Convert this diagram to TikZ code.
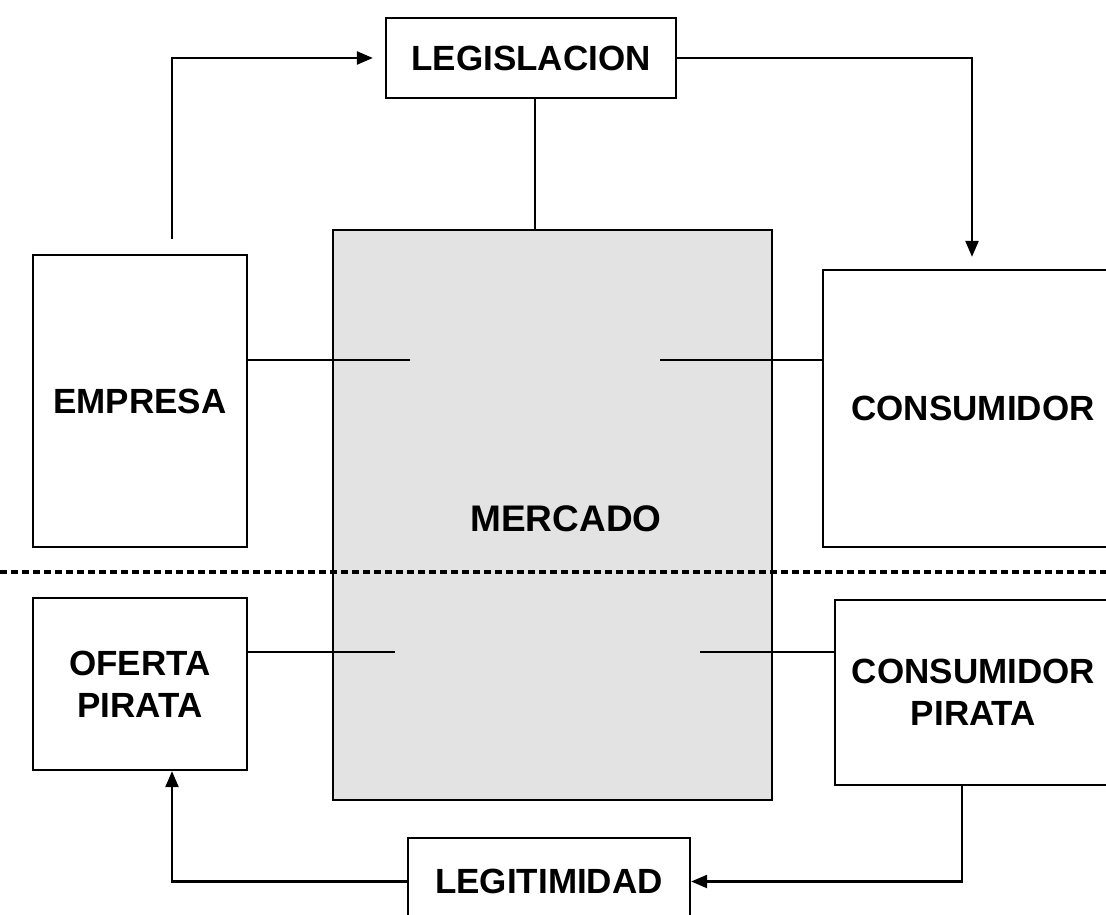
\documentclass[tikz,border=0pt]{standalone}
\usepackage{fontspec}
\setmainfont{Liberation Sans}
\usetikzlibrary{arrows.meta,calc}
\begin{document}
\begin{tikzpicture}[x=1pt,y=-1pt,
  box/.style={draw=black,line width=2.3pt,fill=white,inner sep=0pt,align=center,
    font=\fontsize{35}{42}\selectfont\bfseries},
  conn/.style={line width=2.3pt,draw=black},
  arr/.style={conn,-{Triangle[length=16pt,width=13pt]}},
  sep/.style={line width=3.2pt,dash pattern=on 7pt off 4pt}]
\useasboundingbox (0,0) rectangle (1106,915);
\fill[white] (0,0) rectangle (1106,915);
% boxes
\node[box,minimum width=290pt,minimum height=80pt] (legis) at (531,58) {LEGISLACION};
\node[box,fill=black!11,minimum width=439pt,minimum height=570pt] (mercado) at (552.5,515) {};
\node[font=\fontsize{37}{42}\selectfont\bfseries] (mtext) at (566,519) {MERCADO};
\node[box,minimum width=214pt,minimum height=292pt] (empresa) at (140,401) {EMPRESA};
\node[box,minimum width=289pt,minimum height=277pt] (consumidor) at (967.5,408.5) {\hspace*{11pt}CONSUMIDOR};
\node[box,minimum width=214pt,minimum height=172pt] (oferta) at (140,684) {OFERTA\\PIRATA};
\node[box,minimum width=277pt,minimum height=185pt] (conpir) at (973.5,692.5) {CONSUMIDOR\\PIRATA};
\node[box,minimum width=282pt,minimum height=87pt] (legit) at (549,881.5) {LEGITIMIDAD};
% separator
\coordinate (d1) at (0,572);
\coordinate (d2) at (1106,572);
\draw[sep] (d1) -- (d2);
% connectors
\draw[conn] ([xshift=4pt]legis.south) -- ([xshift=4pt]legis.south |- mercado.north);
\draw[arr,shorten >=12pt] ([xshift=32pt,yshift=15pt]empresa.north) |- (legis.west);
\draw[arr] (legis.east) -| ([xshift=4.5pt,yshift=12pt]consumidor.north);
\draw[arr] ([xshift=-11.5pt]conpir.south) |- (legit.east);
\draw[arr] (legit.west) -| ([xshift=32pt]oferta.south);
\coordinate (m1) at (410,360);
\coordinate (m2) at (660,360);
\coordinate (m3) at (395,652);
\coordinate (m4) at (700,652);
\draw[conn,line width=1.8pt] (m1 -| empresa.east) -- (m1);
\draw[conn,line width=1.8pt] (m2 -| consumidor.west) -- (m2);
\draw[conn,line width=1.8pt] (m3 -| oferta.east) -- (m3);
\draw[conn,line width=1.8pt] (m4 -| conpir.west) -- (m4);
\end{tikzpicture}
\end{document}
